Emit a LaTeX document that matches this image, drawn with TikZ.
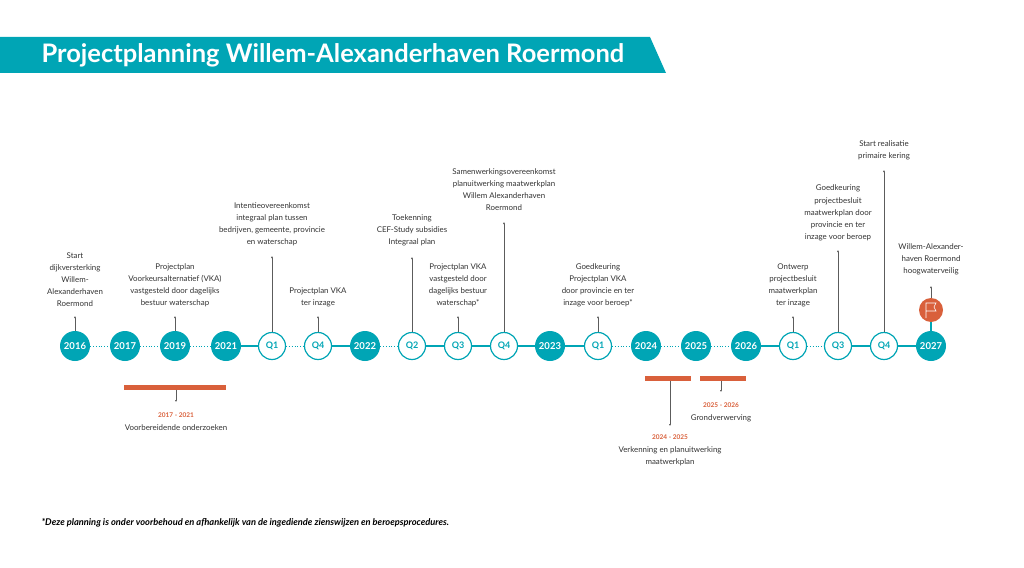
\documentclass[tikz,border=0pt]{standalone}
\usepackage{fontspec}
\setmainfont{Lato}
\usetikzlibrary{positioning}
\usetikzlibrary{arrows.meta}
\definecolor{teal}{HTML}{00A5B5}
\definecolor{oranje}{HTML}{D9603B}
\definecolor{tekst}{HTML}{333333}

\begin{document}
\begin{tikzpicture}[
            x=1pt, y=-1pt,
            > = {Latex[length=2pt,width=2pt]}, % small arrow head
            year/.style={circle, fill=teal, text=white, minimum size=30pt, inner sep=0pt, font=\bfseries\fontsize{9.5}{9}\selectfont},
            quarter/.style={circle, draw=teal, line width=1.2pt, fill=white, text=teal, minimum size=27pt, inner sep=0pt, font=\bfseries\fontsize{9}{9}\selectfont},
            event/.style={align=center, text=tekst, font=\fontsize{7.9}{12.1}\selectfont, inner sep=0pt},
            stem/.style={->, draw=tekst!80, line width=0.5pt},
            solidlink/.style={draw=teal, line width=1.2pt},
            dotlink/.style={draw=teal, line width=0.8pt, dotted},
            period/.style={fill=oranje, draw=none}
        ]
        \useasboundingbox (0,0) rectangle (1024,567);

        % title banner
        \fill[teal] (0,37) -- (650,37) -- (666,73) -- (0,73) -- cycle;
        \node[anchor=west, text=white, font=\bfseries\fontsize{25.5}{26}\selectfont] (title) at (38,55) {Projectplanning Willem-Alexanderhaven Roermond};

        % timeline
        \node[year] (Y16) at (75,346) {2016};
        \node[year] (Y17) at (125,346) {2017};
        \node[year] (Y19) at (175,346) {2019};
        \node[year] (Y21) at (226,346) {2021};
        \node[quarter] (A1) at (272,346) {Q1};
        \node[quarter] (A4) at (318,346) {Q4};
        \node[year] (Y22) at (365,346) {2022};
        \node[quarter] (B2) at (412,346) {Q2};
        \node[quarter] (B3) at (458,346) {Q3};
        \node[quarter] (B4) at (504,346) {Q4};
        \node[year] (Y23) at (550,346) {2023};
        \node[quarter] (C1) at (598,346) {Q1};
        \node[year] (Y24) at (646,346) {2024};
        \node[year] (Y25) at (696,346) {2025};
        \node[year] (Y26) at (746,346) {2026};
        \node[quarter] (D1) at (793,346) {Q1};
        \node[quarter] (D3) at (838,346) {Q3};
        \node[quarter] (D4) at (884,346) {Q4};
        \node[year] (Y27) at (931,346) {2027};

        \path[dotlink] (Y16) -- (Y17) (Y17) -- (Y19) (Y19) -- (Y21) (A1) -- (A4) (Y22) -- (B2)
            (C1) -- (Y24) (Y24) -- (Y25) (Y25) -- (Y26) (D1) -- (D3);
        \path[solidlink] (Y21) -- (A1) (A4) -- (Y22) (B2) -- (B3) (B3) -- (B4) (B4) -- (Y23)
            (Y23) -- (C1) (Y26) -- (D1) (D3) -- (D4) (D4) -- (Y27);

        % events above
        \node[event, anchor=south] (e16) at (75,307) {Start\\dijkversterking\\Willem-\\Alexanderhaven\\Roermond};
        \node[event, anchor=south] (e19) at (175,307) {Projectplan\\Voorkeursalternatief (VKA)\\vastgesteld door dagelijks\\bestuur waterschap};
        \node[event, anchor=south] (ea1) at (272,246) {Intentieovereenkomst\\integraal plan tussen\\bedrijven, gemeente, provincie\\en waterschap};
        \node[event, anchor=south] (ea4) at (318,307) {Projectplan VKA\\ter inzage};
        \node[event, anchor=south] (eb2) at (412,246) {Toekenning\\CEF-Study subsidies\\Integraal plan};
        \node[event, anchor=south] (eb3) at (458,307) {Projectplan VKA\\vastgesteld door\\dagelijks bestuur\\waterschap*};
        \node[event, anchor=south] (eb4) at (504,211) {Samenwerkingsovereenkomst\\planuitwerking maatwerkplan\\Willem Alexanderhaven\\Roermond};
        \node[event, anchor=south] (ec1) at (598,307) {Goedkeuring\\Projectplan VKA\\door provincie en ter\\inzage voor beroep*};
        \node[event, anchor=south] (ed1) at (793,307) {Ontwerp\\projectbesluit\\maatwerkplan\\ter inzage};
        \node[event, anchor=south] (ed3) at (838,241) {Goedkeuring\\projectbesluit\\maatwerkplan door\\provincie en ter\\inzage voor beroep};
        \node[event, anchor=south] (ed4) at (884,160) {Start realisatie\\primaire kering};
        \node[event, anchor=south] (e27) at (931,275) {Willem-Alexander-\\haven Roermond\\hoogwaterveilig};

        % flag
        \node[circle, fill=oranje, minimum size=24pt, inner sep=0pt] (flag) at (931,310) {};
        \draw[white, line width=0.6pt] (926,318) -- (926,303) -- (936,303) -- (934,307) -- (936,311) -- (926,311);
        \draw[teal, line width=1.2pt] (flag) -- (Y27);

        \draw[stem] (Y16) -- (75,316);
        \draw[stem] (Y19) -- (175,316);
        \draw[stem] (A1) -- (272,256);
        \draw[stem] (A4) -- (318,316);
        \draw[stem] (B2) -- (412,257);
        \draw[stem] (B3) -- (458,316);
        \draw[stem] (B4) -- (504,222);
        \draw[stem] (C1) -- (598,316);
        \draw[stem] (D1) -- (793,316);
        \draw[stem] (D3) -- (838,250);
        \draw[stem] (D4) -- (884,170);
        \draw[stem] (flag) -- (931,286);

        % periods below
        \fill[period] (124,384.5) rectangle (226,389.5);
        \fill[period] (645,375.5) rectangle (691,380.5);
        \fill[period] (700,375.5) rectangle (746,380.5);
        \draw[stem] (176,389.5) -- (176,402);
        \draw[stem] (670,380.5) -- (670,426);
        \draw[stem] (721,380.5) -- (721,392);
        \node[event, anchor=north] (p1) at (176,413) {\textcolor{oranje}{\bfseries\fontsize{6.5}{6}\selectfont 2017 - 2021}\\Voorbereidende onderzoeken};
        \node[event, anchor=north] (p2) at (670,435) {\textcolor{oranje}{\bfseries\fontsize{6.5}{6}\selectfont 2024 - 2025}\\Verkenning en planuitwerking\\maatwerkplan};
        \node[event, anchor=north] (p3) at (721,403) {\textcolor{oranje}{\bfseries\fontsize{6.5}{6}\selectfont 2025 - 2026}\\Grondverwerving};

        % footnote
        \node[anchor=west, text=black, font=\bfseries\itshape\fontsize{9.3}{10}\selectfont] (note) at (38,523) {*Deze planning is onder voorbehoud en afhankelijk van de ingediende zienswijzen en beroepsprocedures.};
\end{tikzpicture}
\end{document}
